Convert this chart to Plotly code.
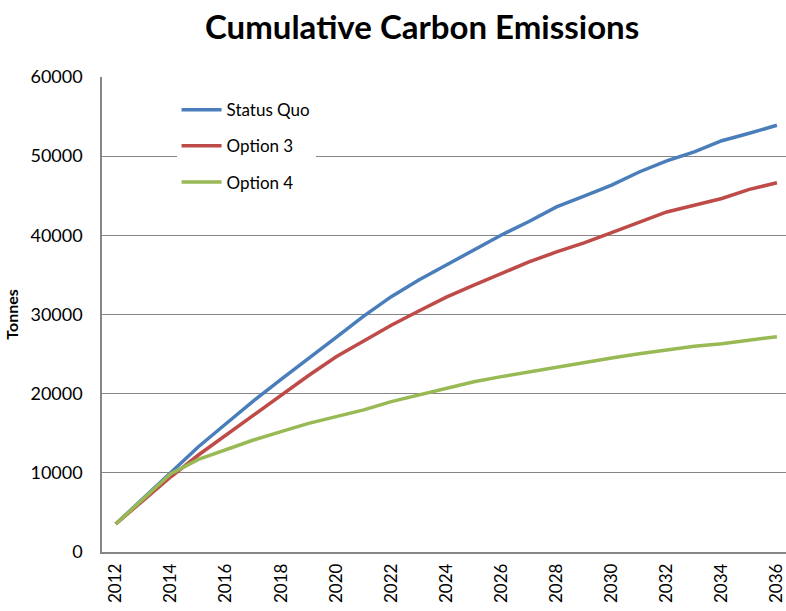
import plotly.graph_objects as go

years = list(range(2012, 2037))
status_quo = [3540, 6800, 10150, 13300, 16200, 19100, 21800, 24400, 27100, 29800, 32250, 34350,
              36250, 38150, 40050, 41750, 43600, 44950, 46350, 48000, 49400, 50550, 51950, 52900, 53900]
option3 = [3540, 6500, 9500, 12250, 14750, 17250, 19750, 22300, 24650, 26600, 28650, 30450,
           32200, 33700, 35200, 36650, 37900, 39050, 40350, 41700, 42950, 43800, 44650, 45800, 46650]
option4 = [3540, 6700, 9900, 11700, 12950, 14150, 15200, 16250, 17100, 17950, 19000, 19850,
           20650, 21500, 22150, 22750, 23400, 23950, 24500, 25050, 25550, 26000, 26300, 26800, 27200]
series_names = ["Status Quo", "Option 3", "Option 4"]
series_colors = ["#4A7EBB", "#BE4B48", "#98B954"]
x_tick_years = list(range(2012, 2037, 2))
y_ticks = [0, 10000, 20000, 30000, 40000, 50000, 60000]

FONT = "Lato"
fig = go.Figure()
for i, (name, vals, col) in enumerate(zip(series_names, [status_quo, option3, option4], series_colors)):
    fig.add_trace(go.Scatter(x=years, y=vals, mode="lines", name=name,
                             legendgroup=f"g{i}",
                             line=dict(color=col, width=3.5)))

fig.update_layout(
    width=786, height=611,
    paper_bgcolor="white", plot_bgcolor="white",
    margin=dict(l=102, r=0, t=77, b=59),
    title=dict(text="<b>Cumulative Carbon Emissions</b>", x=0.537, xref="container", xanchor="center",
               y=0.955, yref="container", yanchor="middle",
               font=dict(family=FONT, size=33, color="black")),
    font=dict(family=FONT, color="black"),
    showlegend=True,
    legend=dict(x=0.109, y=0.968, xanchor="left", yanchor="top", bgcolor="white",
                font=dict(family=FONT, size=17, color="black"), tracegroupgap=11,
                itemwidth=40),
    xaxis=dict(range=[2011.5, 2036.33], tickmode="array", tickvals=x_tick_years,
               ticktext=[str(y) for y in x_tick_years], tickangle=-90,
               tickfont=dict(family=FONT, size=17, color="black"),
               showgrid=False, showline=True, linecolor="#868686", linewidth=1.5,
               zeroline=False, ticks="", ticklabelstandoff=3, ticklabeloverflow="allow"),
    yaxis=dict(range=[0, 60000], tickmode="array", tickvals=y_ticks,
               ticktext=[str(v) for v in y_ticks],
               tickfont=dict(family=FONT, size=18, color="black"),
               showgrid=True, gridcolor="#868686", gridwidth=1.2,
               showline=True, linecolor="#868686", linewidth=1.5,
               zeroline=False, ticks="", ticklabelstandoff=14,
               title=dict(text="<b>Tonnes</b>", font=dict(family=FONT, size=16, color="black"),
                          standoff=8)),
)

fig.write_html("out.html", config={"displayModeBar": False},
               post_script="document.body.style.margin='0';document.body.style.overflow='hidden';")
